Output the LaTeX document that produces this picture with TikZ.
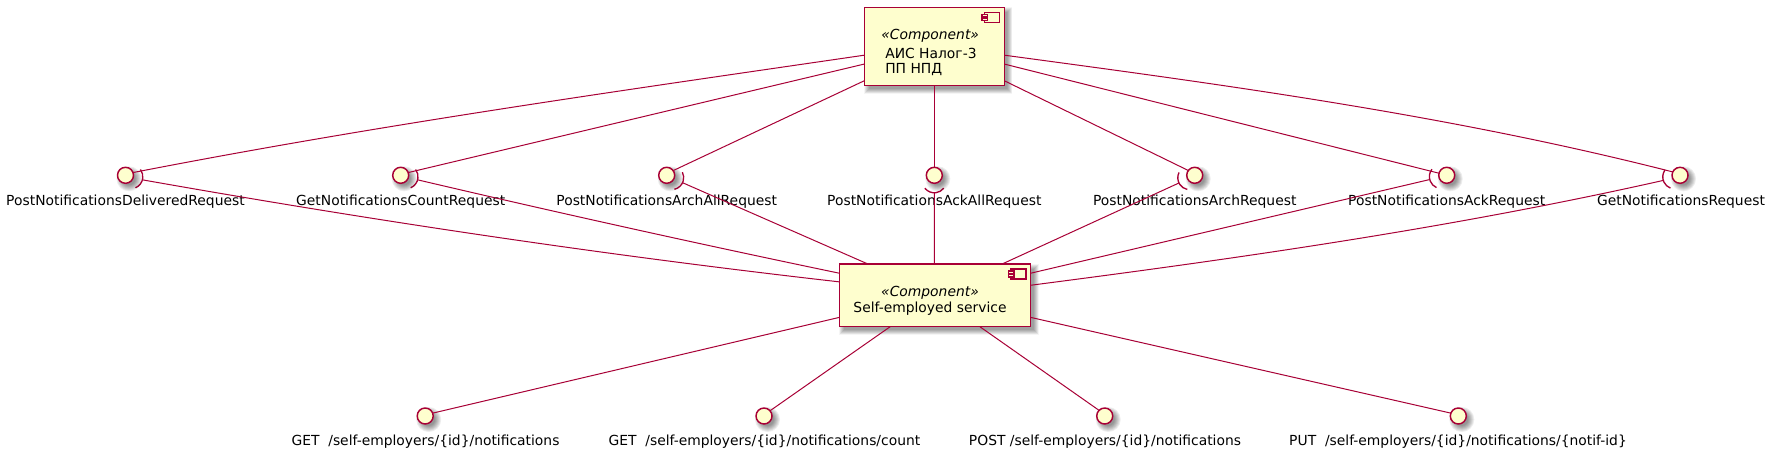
\documentclass[tikz,border=0pt]{standalone}
\usepackage{fontspec}
\setmainfont{DejaVu Sans}
\usetikzlibrary{calc}
\definecolor{umlred}{HTML}{A80036}
\definecolor{umlfill}{HTML}{FEFECE}
\tikzset{x=0.75pt,y=-0.75pt,
 comp/.style={draw=umlred,fill=umlfill,line width=1.1pt,outer sep=0pt,inner sep=0pt,rectangle},
 lolly/.style={draw=umlred,fill=umlfill,circle,line width=1.1pt,minimum size=16*0.75pt,inner sep=0pt,outer sep=0pt},
 sock/.style={circle,minimum size=24*0.75pt,inner sep=0pt,outer sep=0pt},
 lbl/.style={font=\fontsize{10.4}{12.8}\selectfont,inner sep=0pt,text=black},
 st/.style={font=\fontsize{10.4}{12.8}\itshape\selectfont,inner sep=0pt,text=black},
 link/.style={draw=umlred,line width=0.75pt},
 sockarc/.style={draw=umlred,line width=1pt}}
\newcommand{\softshadow}[4]{%
 \foreach \d in {4,3.5,3,2.5,2,1.5,1,0.5,0,-0.5,-1}{\fill[black,opacity=0.04] (#1+4-\d,#2+4-\d) rectangle (#3+4+\d,#4+4+\d);}}
\newcommand{\softdot}[2]{%
 \foreach \d in {12.5,11.5,10.5,9.5,8.5,7.5,6.5}{\fill[black,opacity=0.07] (#1+3.5,#2+3.5) circle[radius=\d*0.75pt];}}
\newcommand{\compicon}[2]{%
 \draw[draw=umlred,fill=umlfill,line width=1.1pt] (#1-15,#2) rectangle (#1,#2+10);
 \draw[draw=umlred,fill=umlfill,line width=1.1pt] (#1-17.5,#2+2) rectangle (#1-12,#2+4.5);
 \draw[draw=umlred,fill=umlfill,line width=1.1pt] (#1-17.5,#2+5.5) rectangle (#1-12,#2+8);}
\newcommand{\iface}[3]{%
 \softdot{#2}{#3}
 \node[lolly] (#1) at (#2,#3) {};}
\newcommand{\socketat}[4]{%
 \node[sock] (s#1) at ($(#2,#3)+(#4:5.5*0.75pt)$) {};
 \draw[sockarc] (s#1.#4) ++(#4:-9pt) ++(#4-52:9pt) arc[start angle=#4-52,end angle=#4+52,radius=9pt];}
\begin{document}
\begin{tikzpicture}
\useasboundingbox (0,0) rectangle (1770,453);
\fill[white] (0,0) rectangle (1770,453);
\softshadow{864.3}{7.5}{1004.3}{85.7}
\softshadow{839.3}{264}{1030.7}{326.7}
\node[comp,minimum width=140*0.75pt,minimum height=78.2*0.75pt] (top) at (934.3,46.6) {};
\node[comp,minimum width=191.4*0.75pt,minimum height=62.7*0.75pt] (svc) at (935,295.3) {};
\compicon{999.5}{12.5}
\compicon{1026}{269}
\node[st] (tst) at (930.2,36) {«Component»};
\node[lbl,anchor=west] (tl1) at (885,53) {АИС Налог-3};
\node[lbl,anchor=west] (tl2) at (885,70) {ПП НПД};
\node[st] (sst) at (930,293) {«Component»};
\node[lbl] (sl) at (930,309) {Self-employed service};
\socketat{a}{125.5}{175.3}{-15}
\socketat{b}{400.7}{175.3}{-15}
\socketat{c}{666.7}{175.3}{-25}
\socketat{d}{934.3}{175.3}{-90}
\socketat{e}{1194.7}{175.3}{206}
\socketat{f}{1446.7}{175.3}{194}
\socketat{g}{1680}{175.3}{197}
\iface{a}{125.5}{175.3}
\iface{b}{400.7}{175.3}
\iface{c}{666.7}{175.3}
\iface{d}{934.3}{175.3}
\iface{e}{1194.7}{175.3}
\iface{f}{1446.7}{175.3}
\iface{g}{1680}{175.3}
\iface{h}{425.2}{416}
\iface{i}{764}{416}
\iface{j}{1104.7}{416}
\iface{k}{1458.3}{416}
\node[lbl] (la) at (125.5,201.5) {PostNotificationsDeliveredRequest};
\node[lbl] (lb) at (400.7,201.5) {GetNotificationsCountRequest};
\node[lbl] (lc) at (666.7,201.5) {PostNotificationsArchAllRequest};
\node[lbl] (ld) at (934.3,201.5) {PostNotificationsAckAllRequest};
\node[lbl] (le) at (1194.7,201.5) {PostNotificationsArchRequest};
\node[lbl] (lf) at (1446.7,201.5) {PostNotificationsAckRequest};
\node[lbl] (lg) at (1681,201.5) {GetNotificationsRequest};
\node[lbl] (lh) at (425.5,442) {GET\ \ /self-employers/\{id\}/notifications};
\node[lbl] (li) at (764.4,442) {GET\ \ /self-employers/\{id\}/notifications/count};
\node[lbl] (lj) at (1105,442) {POST /self-employers/\{id\}/notifications};
\node[lbl] (lk) at (1458,442) {PUT\ \ /self-employers/\{id\}/notifications/\{notif-id\}};
\draw[link] (top.187.6) .. controls (621,90.7) and (378,124.8) .. (a.20);
\draw[link] (top.194.2) -- (b.20);
\draw[link] (top.206.2) -- (c.36);
\draw[link] (top.270) -- (d.90);
\draw[link] (top.-26.6) -- (e.143);
\draw[link] (top.-14.4) -- (f.165);
\draw[link] (top.-7.6) .. controls (1226,85) and (1449.5,115) .. (g.155);
\draw[link] (sa.-15) .. controls (375,221) and (607,255.5) .. (svc.172.85);
\draw[link] (sb.-15) .. controls (559,213) and (699,244) .. (svc.167.1);
\draw[link] (sc.-25) -- (svc.155.6);
\draw[link] (sd.-90) -- (svc.91);
\draw[link] (se.206) -- (svc.25.2);
\draw[link] (sf.194) -- (svc.13.5);
\draw[link] (sg.197) .. controls (1451.7,228) and (1241,258) .. (svc.6.6);
\draw[link] (svc.193.5) -- (h.21);
\draw[link] (svc.215.3) -- (i.41);
\draw[link] (svc.-35.9) -- (j.135);
\draw[link] (svc.-13.5) -- (k.159);
\end{tikzpicture}
\end{document}
